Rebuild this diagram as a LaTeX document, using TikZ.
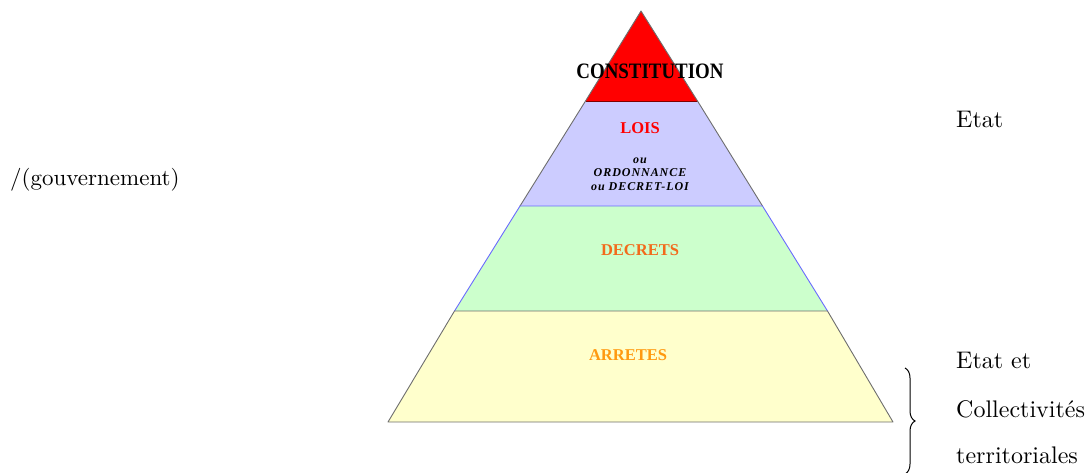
\documentclass[tikz,border=0pt]{standalone}
\usepackage{fontspec}
\setmainfont{lmroman10-regular}[Extension=.otf]
\newfontfamily\timesf{Liberation Serif}
\newfontfamily\timesls[LetterSpace=8]{Liberation Serif}
\usetikzlibrary{decorations.pathreplacing}
\definecolor{layblue}{HTML}{CCCCFF}
\definecolor{laygreen}{HTML}{CCFFCC}
\definecolor{layyellow}{HTML}{FFFFCC}
\definecolor{edgegray}{HTML}{6E6E6E}
\definecolor{edgeblue}{HTML}{6A6AFF}
\definecolor{decretorange}{HTML}{F26A1B}
\definecolor{arreteorange}{HTML}{FF9A10}
\tikzset{
  layer/.style={draw=edgegray, line width=0.9pt, line join=round},
  pyrlabel/.style={inner sep=0pt, anchor=base, font=\timesf\bfseries\fontsize{16.5}{18}\selectfont},
  oulabel/.style={inner sep=0pt, anchor=base, font=\timesls\bfseries\itshape\fontsize{12}{12}\selectfont},
  sidelabel/.style={inner sep=0pt, anchor=base west, font=\fontsize{24}{26}\selectfont},
}
\begin{document}
\begin{tikzpicture}[x=1pt,y=-1pt]
\useasboundingbox (0,0) rectangle (1086,472);
% pyramid corners
\coordinate (apex) at (641,11);
\coordinate (l1) at (585.5,101); \coordinate (r1) at (697.5,101);
\coordinate (l2) at (520,206);   \coordinate (r2) at (762.5,206);
\coordinate (l3) at (454.5,311); \coordinate (r3) at (827.5,311);
\coordinate (l4) at (388,422);   \coordinate (r4) at (893,422);
% layers
\fill[red] (apex) -- (r1) -- (l1) -- cycle;
\fill[layblue] (l1) -- (r1) -- (r2) -- (l2) -- cycle;
\fill[laygreen] (l2) -- (r2) -- (r3) -- (l3) -- cycle;
\fill[layyellow] (l3) -- (r3) -- (r4) -- (l4) -- cycle;
\draw[layer] (l1) -- (apex) -- (r1);
\draw[draw=red!50!black, line width=0.9pt] (l1) -- (r1);
\draw[layer] (l1) -- (l2);
\draw[layer] (r1) -- (r2);
\draw[draw=edgeblue, line width=0.9pt] (l3) -- (l2) -- (r2) -- (r3);
\draw[layer] (l3) -- (r3) -- (r4) -- (l4) -- cycle;
% labels in pyramid
\node[inner sep=0pt, anchor=base, font=\timesf\bfseries\fontsize{22}{22}\selectfont, xscale=0.86] (const) at (650,78) {CONSTITUTION};
\node[pyrlabel, text=red] (lois) at (640,133) {LOIS};
\node[oulabel] (ou1) at (640,163) {ou};
\node[oulabel] (ordo) at (640,176) {ORDONNANCE};
\node[oulabel] (dl) at (640,190) {ou DECRET-LOI};
\node[pyrlabel, text=decretorange] (decrets) at (640,255) {DECRETS};
\node[pyrlabel, text=arreteorange] (arretes) at (628,360) {ARRETES};
% side labels
\node[sidelabel, font=\fontsize{23}{25}\selectfont] (gouv) at (10,185) {/(gouvernement)};
\node[sidelabel] (etat) at (956,127) {Etat};
\node[sidelabel] (etatet) at (956,368) {Etat et};
\node[sidelabel] (coll) at (956,417) {Collectivités};
\node[sidelabel] (terr) at (956,463) {territoriales};
% brace
\coordinate (btop) at (905,368);
\coordinate (bbot) at (905,474);
\draw[line width=1pt, decorate, decoration={brace, amplitude=10pt}] (btop) -- (bbot);
\end{tikzpicture}
\end{document}
